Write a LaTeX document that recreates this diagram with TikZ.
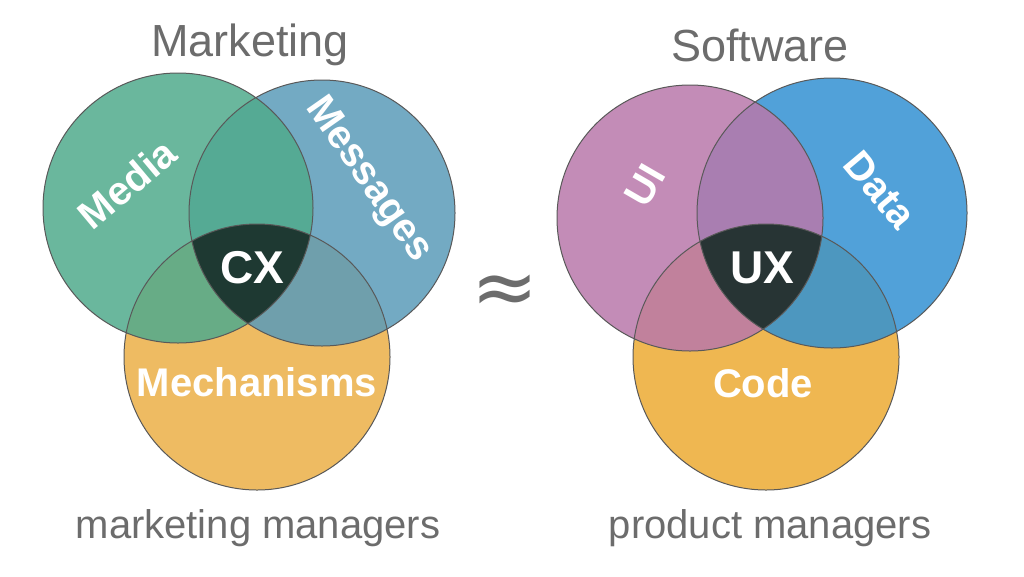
\documentclass[tikz,border=0pt]{standalone}
\usepackage{fontspec}
\setmainfont{Liberation Sans}
\newfontfamily\symf{DejaVu Sans}
\begin{document}
\begin{tikzpicture}[x=1pt,y=-1pt,
  circ/.style={fill opacity=0.85},
  lab/.style={text=white,font=\bfseries\fontsize{40}{40}\selectfont,inner sep=0pt},
  title/.style={text=gray!85!black,font=\fontsize{45}{45}\selectfont}]
\useasboundingbox (0,0) rectangle (1024,576);
\definecolor{cmed}{RGB}{80,170,140}
\definecolor{cmsg}{RGB}{90,155,185}
\definecolor{cmec}{RGB}{235,175,70}
\definecolor{cui}{RGB}{185,120,170}
\definecolor{cdat}{RGB}{50,145,210}
\definecolor{ccod}{RGB}{236,170,50}
\definecolor{dark}{RGB}{25,45,40}
% left
\fill[cmec,circ] (257,357) circle (133);
\fill[cmsg,circ] (322,213) circle (133);
\fill[cmed,circ] (178,208) circle (135);
\begin{scope}
\clip (178,208) circle (135);
\clip (322,213) circle (133);
\fill[dark,opacity=0.9] (257,357) circle (133);
\end{scope}
\draw[gray!70!black,line width=1pt] (178,208) circle (135) (322,213) circle (133) (257,357) circle (133);
% right
\fill[ccod,circ] (766,357) circle (133);
\fill[cdat,circ] (832,213) circle (135);
\fill[cui,circ] (690,218) circle (133);
\begin{scope}
\clip (690,218) circle (133);
\clip (832,213) circle (135);
\fill[dark,opacity=0.9] (766,357) circle (133);
\end{scope}
\draw[gray!70!black,line width=1pt] (690,218) circle (133) (832,213) circle (135) (766,357) circle (133);
% labels
\node[lab,rotate=40] (media) at (127,184) {Media};
\node[lab,rotate=-55] (msg) at (368,180) {Messages};
\node[lab] (mech) at (257,382) {Mechanisms};
\node[lab,font=\bfseries\fontsize{46}{46}\selectfont] (cx) at (252,268) {CX};
\node[lab,rotate=60] (ui) at (645,185) {UI};
\node[lab,rotate=-50] (data) at (880,190) {Data};
\node[lab] (code) at (763,383) {Code};
\node[lab,font=\bfseries\fontsize{46}{46}\selectfont] (ux) at (762,268) {UX};
\node[title] (mk) at (250,45) {Marketing};
\node[title] (sw) at (760,45) {Software};
\node[title,font=\fontsize{40}{40}\selectfont] (mm) at (258,528) {marketing managers};
\node[title,font=\fontsize{40}{40}\selectfont] (pm) at (770,528) {product managers};
\node[title,font=\symf\fontsize{80}{80}\selectfont] (approx) at (505,295) {≈};
\end{tikzpicture}
\end{document}
